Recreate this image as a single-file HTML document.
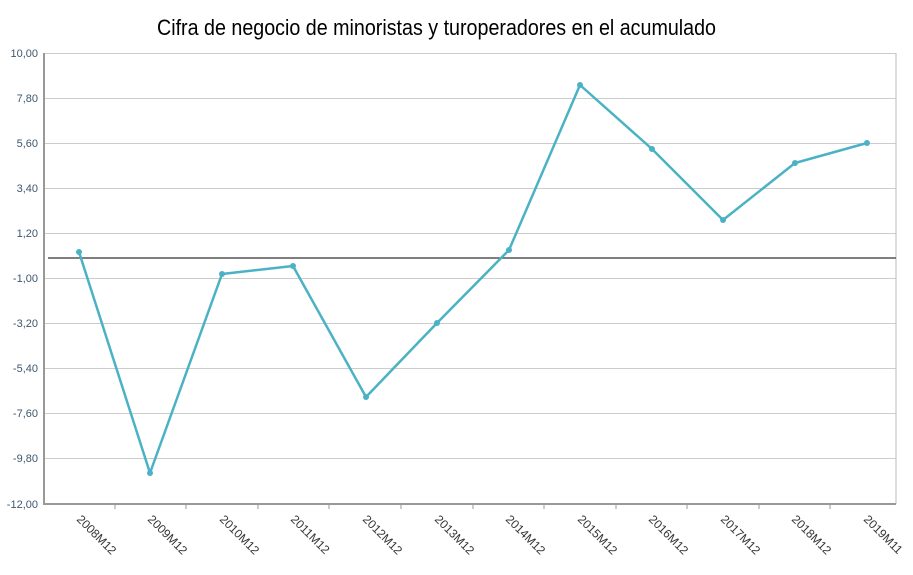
<!DOCTYPE html><html><head><style>body{margin:0;background:#fff}</style></head><body>
<svg width="913" height="570" xmlns="http://www.w3.org/2000/svg" font-family="Liberation Sans, sans-serif">
<text x="157" y="35" font-size="22" fill="#000" textLength="559" lengthAdjust="spacingAndGlyphs">Cifra de negocio de minoristas y turoperadores en el acumulado</text>
<g stroke="#ccc" stroke-width="1">
<line x1="44" x2="896" y1="53.5" y2="53.5"/><line x1="44" x2="896" y1="98.5" y2="98.5"/><line x1="44" x2="896" y1="143.5" y2="143.5"/><line x1="44" x2="896" y1="188.5" y2="188.5"/><line x1="44" x2="896" y1="233.5" y2="233.5"/><line x1="44" x2="896" y1="278.5" y2="278.5"/><line x1="44" x2="896" y1="323.5" y2="323.5"/><line x1="44" x2="896" y1="368.5" y2="368.5"/><line x1="44" x2="896" y1="413.5" y2="413.5"/><line x1="44" x2="896" y1="458.5" y2="458.5"/>
</g>
<line x1="896" x2="896" y1="53" y2="504" stroke="#bbb"/>
<line x1="44" x2="44" y1="53" y2="505" stroke="#999" stroke-width="2"/>
<line x1="43" x2="896" y1="504" y2="504" stroke="#999" stroke-width="2"/>
<line x1="48" x2="896" y1="258" y2="258" stroke="#555" stroke-width="1.5"/>
<g stroke="#999"><line x1="115" x2="115" y1="504" y2="509"/><line x1="186" x2="186" y1="504" y2="509"/><line x1="258" x2="258" y1="504" y2="509"/><line x1="329" x2="329" y1="504" y2="509"/><line x1="401" x2="401" y1="504" y2="509"/><line x1="473" x2="473" y1="504" y2="509"/><line x1="544" x2="544" y1="504" y2="509"/><line x1="616" x2="616" y1="504" y2="509"/><line x1="687" x2="687" y1="504" y2="509"/><line x1="759" x2="759" y1="504" y2="509"/><line x1="830" x2="830" y1="504" y2="509"/></g>
<g font-size="11" fill="#3e576f" text-anchor="end">
<text x="38" y="57">10,00</text><text x="38" y="102">7,80</text><text x="38" y="147">5,60</text><text x="38" y="192">3,40</text><text x="38" y="237">1,20</text><text x="38" y="282">-1,00</text><text x="38" y="327">-3,20</text><text x="38" y="372">-5,40</text><text x="38" y="417">-7,60</text><text x="38" y="462">-9,80</text><text x="38" y="508">-12,00</text>
</g>
<g font-size="12" fill="#333">
<text transform="translate(76,520) rotate(45)">2008M12</text>
<text transform="translate(147,520) rotate(45)">2009M12</text>
<text transform="translate(219,520) rotate(45)">2010M12</text>
<text transform="translate(290,520) rotate(45)">2011M12</text>
<text transform="translate(362,520) rotate(45)">2012M12</text>
<text transform="translate(434,520) rotate(45)">2013M12</text>
<text transform="translate(505,520) rotate(45)">2014M12</text>
<text transform="translate(577,520) rotate(45)">2015M12</text>
<text transform="translate(648,520) rotate(45)">2016M12</text>
<text transform="translate(720,520) rotate(45)">2017M12</text>
<text transform="translate(791,520) rotate(45)">2018M12</text>
<text transform="translate(863,520) rotate(45)">2019M11</text>
</g>
<polyline fill="none" stroke="#4bb2c5" stroke-width="2.5" stroke-linejoin="round" points="79,252 150,473 222,274 293,266 366,397 437,323 509,250 580,85 652,149 723,220 795,163 867,143"/>
<g fill="#4bb2c5">
<circle cx="79" cy="252" r="3"/><circle cx="150" cy="473" r="3"/><circle cx="222" cy="274" r="3"/><circle cx="293" cy="266" r="3"/><circle cx="366" cy="397" r="3"/><circle cx="437" cy="323" r="3"/><circle cx="509" cy="250" r="3"/><circle cx="580" cy="85" r="3"/><circle cx="652" cy="149" r="3"/><circle cx="723" cy="220" r="3"/><circle cx="795" cy="163" r="3"/><circle cx="867" cy="143" r="3"/>
</g>
</svg></body></html>
